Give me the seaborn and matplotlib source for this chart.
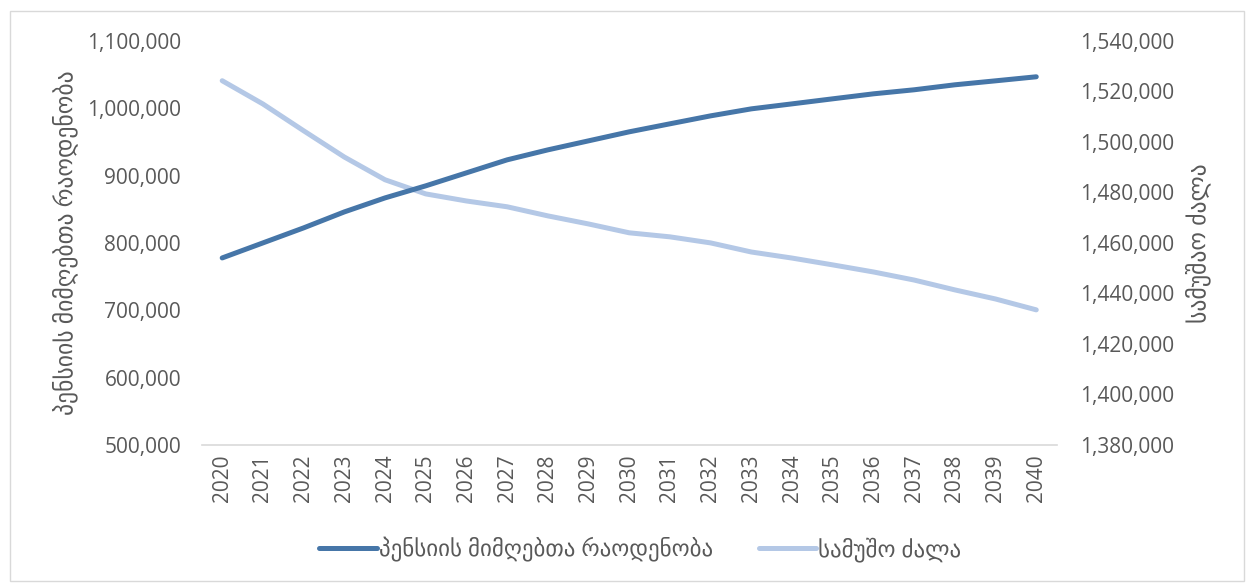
import pandas as pd
import matplotlib.pyplot as plt
import seaborn as sns
from matplotlib.ticker import FuncFormatter
from matplotlib.patches import Rectangle

# data
years = list(range(2020, 2041))
pension_recipients = [777700, 800000, 822300, 846000, 866800, 884700, 904000,
                      923300, 938100, 951500, 964900, 976800, 988600, 999000,
                      1006400, 1013900, 1021300, 1027300, 1034700, 1040600, 1046600]
labour_force = [1524200, 1515000, 1504400, 1494000, 1485000, 1479400, 1476600,
                1474300, 1470700, 1467500, 1464000, 1462400, 1460000, 1456400,
                1454000, 1451300, 1448500, 1445300, 1441400, 1437800, 1433500]

name_pension = "პენსიის მიმღებთა რაოდენობა"
name_labour = "სამუშო ძალა"

df = pd.DataFrame({"year": years, "pension": pension_recipients, "labour": labour_force})

sns.set_style("white")
plt.rcParams['font.family'] = ['Open Sans', 'DejaVu Sans']

dark = "#4676A8"
light = "#B4C8E6"
grey = "#595959"

fig = plt.figure(figsize=(12.46, 5.83), dpi=100)
ax = fig.add_axes([0.162, 0.2367, 0.686, 0.6933])
ax2 = ax.twinx()

sns.lineplot(data=df, x="year", y="pension", ax=ax, color=dark, linewidth=3.6,
             solid_capstyle="round", label=name_pension, legend=False)
sns.lineplot(data=df, x="year", y="labour", ax=ax2, color=light, linewidth=3.6,
             solid_capstyle="round", label=name_labour, legend=False)
ax.set_zorder(ax2.get_zorder() + 1)
ax.patch.set_visible(False)

ax.set_xlim(2019.5, 2040.5)
ax.set_xticks(years)
ax.set_xticklabels([str(y) for y in years], rotation=90)
ax.set_ylim(500000, 1100000)
ax.set_yticks(range(500000, 1100001, 100000))
ax2.set_ylim(1380000, 1540000)
ax2.set_yticks(range(1380000, 1540001, 20000))

fmt = FuncFormatter(lambda v, p: f"{int(v):,}")
ax.yaxis.set_major_formatter(fmt)
ax2.yaxis.set_major_formatter(fmt)

for a in (ax, ax2):
    for s in a.spines.values():
        s.set_visible(False)
    a.tick_params(length=0, labelsize=15, colors=grey)
ax.spines["bottom"].set_visible(True)
ax.spines["bottom"].set_color("#D9D9D9")
ax.spines["bottom"].set_linewidth(1.2)
ax.tick_params(axis="y", pad=15)
ax2.tick_params(axis="y", pad=17)
ax.tick_params(axis="x", pad=7)

ax.set_xlabel("")
ax.set_ylabel(name_pension, fontsize=17, color=grey, labelpad=6)
ax2.set_ylabel("სამუშაო ძალა", fontsize=17, color=grey, rotation=90, labelpad=8)

h1, l1 = ax.get_legend_handles_labels()
h2, l2 = ax2.get_legend_handles_labels()
fig.legend(h1 + h2, l1 + l2, loc="center", bbox_to_anchor=(0.514, 0.057), ncol=2,
           frameon=False, fontsize=16.5, labelcolor=grey, handlelength=2.5,
           handletextpad=0.1, columnspacing=2.0)

fig.patches.append(Rectangle((0.008, 0.003), 0.99, 0.978, transform=fig.transFigure,
                             fill=False, edgecolor="#D9D9D9", linewidth=1))

fig.savefig("out.png", dpi=100)
